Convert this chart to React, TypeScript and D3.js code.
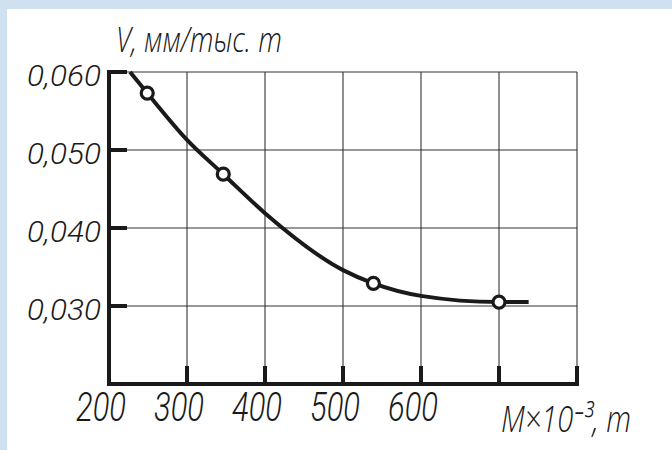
import React from "react";
import * as d3 from "d3";

const xTicks = [200, 300, 400, 500, 600, 700, 800];
const xTickLabels = ["200", "300", "400", "500", "600"];
const yTicks = [0.03, 0.04, 0.05, 0.06];
const yTickLabels = ["0,030", "0,040", "0,050", "0,060"];
const curveM = [227, 249, 300, 346.5, 400, 500, 539, 600, 700, 738];
const curveV = [0.06, 0.0573, 0.0513, 0.0469, 0.0419, 0.0346, 0.0329, 0.0313, 0.0305, 0.0305];
const markerM = [249, 346.5, 539, 700];
const markerV = [0.0573, 0.0469, 0.0329, 0.0305];
const yTitle = "V, мм/тыс. т";
const xTitle = "M×10⁻³, т";

const W = 672;
const H = 450;
const FONT = "Roboto, 'DejaVu Sans', sans-serif";
const TITLE_FONT = "'Open Sans', Roboto, 'DejaVu Sans', sans-serif";
const INK = "#1a1a1a";

export default function App() {
  const x = d3.scaleLinear().domain([200, 800]).range([109, 577]);
  const y = d3.scaleLinear().domain([0.02, 0.06]).range([384, 72]);
  const line = d3
    .line<number>()
    .x((_, i) => x(curveM[i]))
    .y((d) => y(d))
    .curve(d3.curveMonotoneX);
  const gridY = [0.03, 0.04, 0.05, 0.06];
  const x0 = x(200);
  const x1 = x(800);
  const y0 = y(0.02);
  const y1 = y(0.06);
  const tickLen = 18;
  const textStyle: React.CSSProperties = {
    fontFamily: FONT,
    fontWeight: 300,
    fontStyle: "italic",
  };
  const titleStyle: React.CSSProperties = {
    fontFamily: TITLE_FONT,
    fontWeight: 300,
    fontStyle: "italic",
  };
  return (
    <svg
      width={W}
      height={H}
      style={{ position: "fixed", left: 0, top: 0, background: "#fff" }}
    >
      <rect x={0} y={0} width={W} height={H} fill="#fff" />
      <rect x={0} y={0} width={W} height={9} fill="#cfe0f1" />
      <rect x={0} y={0} width={7} height={H} fill="#cfe0f1" />

      {/* grid */}
      {xTicks.slice(1).map((t) => (
        <line key={"gx" + t} x1={x(t)} x2={x(t)} y1={y1} y2={y0} stroke="#333" strokeWidth={1.1} />
      ))}
      {gridY.map((t) => (
        <line key={"gy" + t} x1={x0} x2={x1} y1={y(t)} y2={y(t)} stroke="#333" strokeWidth={1.1} />
      ))}

      {/* axes */}
      <line x1={x0} x2={x0} y1={y1 - 2} y2={y0 + 2} stroke={INK} strokeWidth={4} />
      <line x1={x0 - 2} x2={x1 + 2} y1={y0} y2={y0} stroke={INK} strokeWidth={4} />
      {xTicks.slice(1).map((t) => (
        <line key={"tx" + t} x1={x(t)} x2={x(t)} y1={y0} y2={y0 - tickLen} stroke={INK} strokeWidth={4} />
      ))}
      {yTicks.map((t) => (
        <line key={"ty" + t} x1={x0} x2={x0 + tickLen} y1={y(t)} y2={y(t)} stroke={INK} strokeWidth={4} />
      ))}

      {/* curve */}
      <path d={line(curveV) || ""} fill="none" stroke={INK} strokeWidth={4} strokeLinecap="butt" />
      {markerM.map((m, i) => (
        <circle key={"m" + m} cx={x(m)} cy={y(markerV[i])} r={6} fill="#fff" stroke={INK} strokeWidth={3.2} />
      ))}

      {/* y tick labels */}
      {yTicks.map((t, i) => (
        <text
          key={"ly" + t}
          x={101}
          y={y(t) + 14}
          textAnchor="end"
          fontSize={30}
          fill={INK}
          textLength={74}
          lengthAdjust="spacingAndGlyphs"
          style={textStyle}
        >
          {yTickLabels[i]}
        </text>
      ))}

      {/* x tick labels */}
      {xTickLabels.map((lab, i) => (
        <text
          key={"lx" + lab}
          x={x(xTicks[i]) - 8}
          y={421}
          textAnchor="middle"
          fontSize={40}
          fill={INK}
          textLength={50}
          lengthAdjust="spacingAndGlyphs"
          style={textStyle}
        >
          {lab}
        </text>
      ))}

      {/* y title */}
      <text x={116} y={52} fontSize={35} fill={INK} textLength={166} lengthAdjust="spacingAndGlyphs" style={titleStyle}>
        {yTitle}
      </text>

      {/* x title */}
      <text
        x={501}
        y={432}
        fontSize={37}
        fill={INK}
        textLength={130}
        lengthAdjust="spacingAndGlyphs"
        style={titleStyle}
      >
        {xTitle}
      </text>
    </svg>
  );
}
